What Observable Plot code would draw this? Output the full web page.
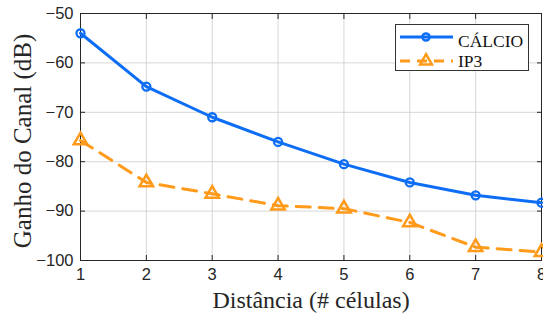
<!DOCTYPE html>
<html><head><meta charset="utf-8">
<script src="https://cdn.jsdelivr.net/npm/d3@7"></script>
<script src="https://cdn.jsdelivr.net/npm/@observablehq/plot@0.6"></script>
<style>
body{margin:0;background:#fff;}
#wrap{position:relative;width:543px;height:322px;overflow:hidden;}
#legend{position:absolute;left:395px;top:24px;width:134px;height:47px;border:1px solid #333;background:#fff;box-sizing:border-box;z-index:2;}
</style></head>
<body><div id="wrap"><div id="legend"></div></div>
<script>
const distance = [1,2,3,4,5,6,7,8];
const calcio = [-54.0,-64.8,-71.0,-76.0,-80.5,-84.2,-86.8,-88.3];
const ip3 = [-75.7,-84.2,-86.5,-88.9,-89.5,-92.3,-97.3,-98.3];
const yTicks = [-100,-90,-80,-70,-60,-50];
const seriesNames = ["CÁLCIO","IP3"];
const colors = ["#0d6ef5","#ff9a1a"];

const dataC = distance.map((d,i)=>({x:d,y:calcio[i]}));
const dataI = distance.map((d,i)=>({x:d,y:ip3[i]}));

const chart = Plot.plot({
  width:543, height:322,
  marginLeft:80, marginRight:2, marginTop:13, marginBottom:62,
  style:{fontFamily:"'Liberation Sans', Arial, sans-serif", fontSize:"16.5px", color:"#262626", background:"#fff", overflow:"visible"},
  x:{domain:[1,8], ticks:distance, tickFormat:d=>String(d), label:null},
  y:{domain:[-100,-50], ticks:yTicks, label:null},
  marks:[
    Plot.gridX(distance,{stroke:"#ccc", strokeOpacity:0.8}),
    Plot.gridY(yTicks,{stroke:"#ccc", strokeOpacity:0.8}),
    Plot.frame({stroke:"#262626", strokeWidth:1}),
    Plot.axisX(distance,{tickSize:-5, tickPadding:13, fontSize:16.5, stroke:"#262626", fill:"#262626", label:null}),
    Plot.axisY(yTicks,{tickSize:-5, tickPadding:12, fontSize:16.5, stroke:"#262626", fill:"#262626", label:null}),
    Plot.axisX(distance,{anchor:"top", tickSize:-5, label:null, text:null, stroke:"#262626"}),
    Plot.axisY(yTicks,{anchor:"right", tickSize:-5, label:null, text:null, stroke:"#262626"}),
    Plot.line(dataI,{x:"x",y:"y",stroke:colors[1],strokeWidth:3,strokeDasharray:"14,9"}),
    Plot.dot(dataI,{x:"x",y:"y",symbol:"triangle",r:5,stroke:colors[1],strokeWidth:2.5,fill:"none"}),
    Plot.line(dataC,{x:"x",y:"y",stroke:colors[0],strokeWidth:3}),
    Plot.dot(dataC,{x:"x",y:"y",symbol:"circle",r:4,stroke:colors[0],strokeWidth:2.3,fill:"none"}),
    Plot.text(["Distância (# células)"],{frameAnchor:"bottom", dy:47, fontFamily:"'Liberation Serif', serif", fontSize:24, fill:"#262626"}),
    Plot.text(["Ganho do Canal (dB)"],{frameAnchor:"left", dx:-58, dy:4, rotate:-90, textAnchor:"middle", fontFamily:"'Liberation Serif', serif", fontSize:25, fill:"#262626"})
  ]
});
document.getElementById("wrap").prepend(chart);

// legend
const svg = d3.select("#legend").append("svg").attr("width",132).attr("height",45).style("position","absolute").style("left","0").style("top","0");
const rows = [{name:seriesNames[0],color:colors[0],dash:null,sym:"circle",y:12,ty:22},{name:seriesNames[1],color:colors[1],dash:"10,7",sym:"triangle",y:36,ty:42}];
rows.forEach(r=>{
  svg.append("line").attr("x1",4).attr("x2",57).attr("y1",r.y).attr("y2",r.y).attr("stroke",r.color).attr("stroke-width",3).attr("stroke-dasharray",r.dash);
  const sym = d3.symbol(r.sym==="circle"?d3.symbolCircle:d3.symbolTriangle, r.sym==="circle"?40:60)();
  svg.append("path").attr("d",sym).attr("transform",`translate(30,${r.y})`).attr("fill","none").attr("stroke",r.color).attr("stroke-width",2.5);
  svg.append("text").attr("x",62).attr("y",r.ty).text(r.name).attr("font-family","'Liberation Serif', serif").attr("font-size",17.5).attr("fill","#111");
});
</script></body></html>
